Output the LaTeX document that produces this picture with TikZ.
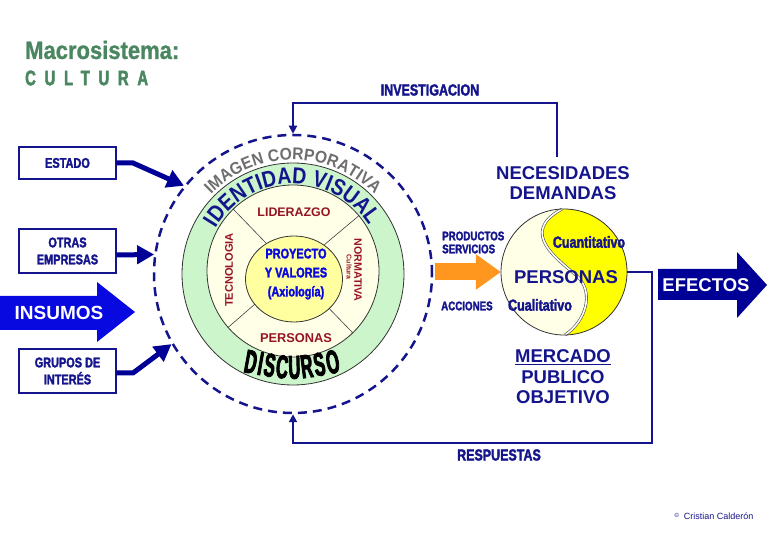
\documentclass[tikz,border=0pt]{standalone}
\usepackage{fontspec}
\setmainfont{Liberation Sans}
\newfontfamily\narrowfont[FakeStretch=0.78,BoldFeatures={FakeBold=2}]{Liberation Sans}
\newfontfamily\tallfont[FakeStretch=0.5,BoldFeatures={FakeBold=2.5}]{Liberation Sans}
\newfontfamily\titlefont[FakeStretch=0.88,BoldFeatures={FakeBold=1}]{Liberation Sans}
\newfontfamily\spacedfont[FakeStretch=0.7,LetterSpace=42,BoldFeatures={FakeBold=2.5}]{Liberation Sans}
\newfontfamily\identfont[FakeStretch=0.85]{Liberation Sans}
\newfontfamily\corpfont[FakeStretch=0.92]{Liberation Sans}
\usetikzlibrary{arrows.meta,positioning,shapes.geometric,decorations.text}
\definecolor{navyblue}{RGB}{20,20,140}
\definecolor{arrowblue}{RGB}{0,0,150}
\definecolor{brightblue}{RGB}{8,8,225}
\definecolor{deepred}{RGB}{150,20,35}
\definecolor{titlegreen}{RGB}{74,134,96}
\definecolor{bandgreen}{RGB}{204,245,204}
\definecolor{cream}{RGB}{255,255,232}
\definecolor{paleyellow}{RGB}{255,255,160}
\definecolor{sunyellow}{RGB}{255,255,0}
\definecolor{orangearr}{RGB}{255,150,30}
\definecolor{corpgray}{RGB}{110,110,110}
\tikzset{
  srcbox/.style={draw=navyblue,line width=1.2pt,fill=white,minimum width=97pt,
    inner sep=0pt,align=center,text=navyblue,
    font=\narrowfont\bfseries\fontsize{14}{17}\selectfont},
  thickarr/.style={draw=arrowblue,line width=5pt,-{Triangle[length=17pt,width=18pt]}},
  fbline/.style={draw=navyblue,line width=2pt,-{Triangle[length=8pt,width=8pt]}},
  fbtag/.style={text=navyblue,font=\narrowfont\bfseries\fontsize{16}{16}\selectfont},
  bigtag/.style={text=navyblue,align=center,font=\bfseries\fontsize{18.5}{20.5}\selectfont},
  ringtag/.style={text=deepred,inner sep=0pt,font=\bfseries\fontsize{#1}{#1}\selectfont},
  ringtag/.default=12,
  smalltag/.style={text=navyblue,align=left,inner sep=0pt,
    font=\narrowfont\bfseries\fontsize{12.5}{13}\selectfont},
  yytag/.style={text=navyblue,inner sep=0pt,font=\narrowfont\bfseries\fontsize{16}{16}\selectfont},
  divider/.style={draw=black!75,line width=0.6pt},
}
\begin{document}
\begin{tikzpicture}[x=1pt,y=1pt]
\useasboundingbox (0,0) rectangle (768,535);
% title
\node[anchor=west,inner sep=0pt,text=titlegreen,font=\titlefont\bfseries\fontsize{25}{25}\selectfont]
  (macro) at (25,485) {Macrosistema:};
\node[anchor=west,inner sep=0pt,text=titlegreen,font=\spacedfont\bfseries\fontsize{21}{21}\selectfont]
  (cultura) at (25,457) {CULTURA};

% circles of the organisation
\node[circle,draw=navyblue,line width=2.5pt,dash pattern=on 9pt off 6pt,
  minimum size=278pt,inner sep=0pt] (imagen) at (293,261) {};
\node[circle,draw=black!80,fill=bandgreen,line width=0.8pt,
  minimum size=222pt,inner sep=0pt] (ident) at (293,261) {};
\node[circle,draw=black!80,fill=cream,line width=0.8pt,
  minimum size=172pt,inner sep=0pt] (ring) at (293,264) {};
\foreach \ang in {134,40,221,314}
  \draw[divider] (ring.center) -- (ring.\ang);
\node[ellipse,draw=black!80,fill=paleyellow,line width=0.8pt,
  minimum width=97pt,minimum height=86pt,inner sep=0pt] (core) at (294,256) {};
\node[text=brightblue,align=center,inner sep=0pt,
  font=\narrowfont\bfseries\fontsize{14}{19}\selectfont] (axio) at (296,261)
  {PROYECTO\\Y VALORES\\(Axiología)};

% sectors
\node[ringtag=12.4] (lider) at (294,323) {LIDERAZGO};
\node[ringtag=11.1,rotate=90] (tecno) at (229,265) {TECNOLOGIA};
\node[ringtag=10.7,rotate=-90] (norma) at (358,265) {NORMATIVA};
\node[ringtag=7,rotate=-90] (cultu) at (349,268) {Cultura};
\node[ringtag=12.8] (perso) at (296,197) {PERSONAS};

% texts along the rings
\path[decorate,decoration={text along path,text color=corpgray,text align=center,
  text={|\corpfont\bfseries\fontsize{17}{17}\selectfont|IMAGEN CORPORATIVA}}]
  ([shift={(150:114)}]ident.center) arc[start angle=150,end angle=30,radius=114pt];
\path[decorate,decoration={text along path,text color=navyblue,text align=center,
  text={|\identfont\bfseries\fontsize{23}{23}\selectfont|IDENTIDAD VISUAL}}]
  ([shift={(157:90)}]ident.center) arc[start angle=157,end angle=25,radius=90pt];
\path[decorate,decoration={text along path,text color=black,text align={fit to path},
  text={|\tallfont\bfseries\fontsize{33}{33}\selectfont|DISCURSO}}]
  (243,163) .. controls (292,154) .. (341,163);

% sources
\node[srcbox,minimum height=32pt] (estado) at (67.5,372) {ESTADO};
\node[srcbox,minimum height=44pt] (otras) at (67.5,284) {OTRAS\\EMPRESAS};
\node[srcbox,minimum height=44pt] (grupos) at (67.5,164) {GRUPOS DE\\INTERÉS};
\coordinate (estbend) at (133,372);
\coordinate (grpbend) at (133,162);
\draw[thickarr] (estado.east) -- (estbend) -- (imagen.141);
\draw[thickarr] ([yshift=-4pt]otras.east) -- (imagen.172);
\draw[thickarr] ([yshift=-2pt]grupos.east) -- (grpbend) -- (imagen.210);

% insumos
\fill[brightblue] (0,205) -- (97,205) -- (97,193) -- (135,223) -- (97,253) -- (97,239) -- (0,239) -- cycle;
\node[text=white,font=\bfseries\fontsize{19}{19}\selectfont] (insumos) at (59,222) {INSUMOS};

% personas
\node[circle,fill=cream,minimum size=126pt,inner sep=0pt] (yy) at (564,263) {};
\fill[sunyellow] (562,326) .. controls (518,302) and (558,276) .. (578,258)
  .. controls (594,242) and (586,214) .. (565,200)
  arc[start angle=-89,end angle=92,radius=63pt] -- cycle;
\draw[draw=black!70,line width=0.6pt,double=white,double distance=1.6pt]
  (562,326) .. controls (518,302) and (558,276) .. (578,258)
  .. controls (594,242) and (586,214) .. (565,200);
\draw[black!80,line width=0.8pt] (yy.center) circle[radius=63pt];
\node[text=navyblue,inner sep=0pt,font=\bfseries\fontsize{18.5}{18.5}\selectfont] (persyy) at (566,258) {PERSONAS};
\node[yytag] (cuanti) at (589,293) {Cuantitativo};
\node[yytag] (cuali) at (540,230) {Cualitativo};

\node[bigtag] (needs) at (563,352) {NECESIDADES\\DEMANDAS};
\node[bigtag] (mercado) at (563,158) {\underline{MERCADO}\\PUBLICO\\OBJETIVO};

% offer towards the market
\coordinate (offer) at (435,263);
\draw[orangearr,line width=17pt,-{Triangle[length=25pt,width=34pt]}] (offer) -- (yy.west);
\node[smalltag,anchor=west] (prod) at (442,292.5) {PRODUCTOS\\SERVICIOS};
\node[smalltag,anchor=west] (acc) at (441,229) {ACCIONES};

% feedback loops
\coordinate (invtop) at (293,432);
\coordinate (respcorner) at (652,92);
\draw[fbline] ([xshift=-6pt,yshift=6pt]needs.north) |- (invtop) -- (imagen.north);
\draw[fbline] (yy.east) -| (respcorner) -| (imagen.south);
\node[fbtag] (invest) at (430,445) {INVESTIGACION};
\node[fbtag] (resp) at (499,80) {RESPUESTAS};

% efectos
\fill[arrowblue] (658,235) -- (737,235) -- (737,217) -- (767,250) -- (737,283) -- (737,266) -- (658,266) -- cycle;
\node[text=white,font=\bfseries\fontsize{18.5}{18.5}\selectfont] (efectos) at (706,250) {EFECTOS};

\node[text=navyblue,font=\fontsize{9}{9}\selectfont] (author) at (714,19)
  {\raisebox{2pt}{\fontsize{6}{6}\selectfont ©}\hspace{5pt}Cristian Calderón};
\end{tikzpicture}
\end{document}
